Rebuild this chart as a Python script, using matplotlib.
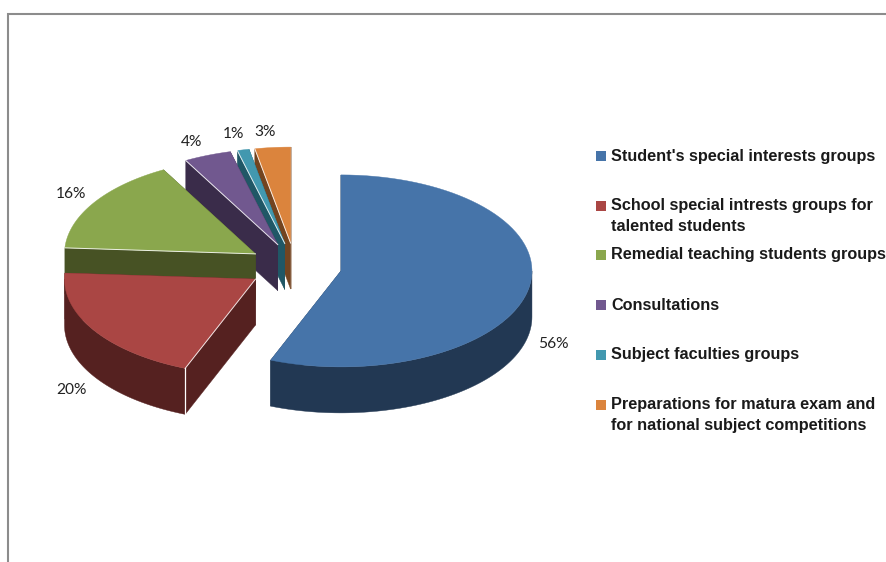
import numpy as np
import matplotlib
matplotlib.use('Agg')
import matplotlib.pyplot as plt

# chart data
categories = ["Student's special interests groups",
              "School special intrests groups for\ntalented students",
              "Remedial teaching students groups",
              "Consultations",
              "Subject faculties groups",
              "Preparations for matura exam and\nfor national subject competitions"]
values = [56, 20, 16, 4, 1, 3]
pct_labels = ['56%', '20%', '16%', '4%', '1%', '3%']

# colours
top_colors = ['#4674A9', '#AA4644', '#8AA74D', '#71588F', '#4298AF', '#DB843D']
side_colors = ['#223853', '#552120', '#475224', '#3A2C4A', '#205766', '#734420']

# pie geometry in pixels
cx, cy = 295, 266.5
rx, ry = 191, 96
depth = 46
explode = 0.245

# label layout
label_xy = [(553, 343), (71, 389), (71, 194), (192, 141), (233, 134), (265, 131)]
legend_y = [156, 216, 255, 305, 355, 415]

fig = plt.figure(figsize=(8.87, 5.62), dpi=100)
ax = fig.add_axes([0, 0, 1, 1])
ax.set_xlim(0, 887)
ax.set_ylim(562, 0)
ax.axis('off')

# outer frame, only top and left show
ax.plot([8, 8, 887], [562, 14, 14], color='#8c8c8c', lw=1.5, solid_joinstyle='miter')


def ring_point(theta, x0, y0):
    # theta is clockwise from 12 o'clock, in degrees
    t = np.radians(theta)
    return x0 + rx * np.sin(t), y0 - ry * np.cos(t)


def draw_slice(start, end, top, side):
    mid = np.radians((start + end) / 2)
    x0 = cx + explode * rx * np.sin(mid)
    y0 = cy - explode * ry * np.cos(mid)
    arc = np.linspace(start, end, 80)
    xs, ys = ring_point(arc, x0, y0)

    # the two cut faces
    for theta in (end, start):
        px, py = ring_point(theta, x0, y0)
        ax.fill([x0, px, px, x0], [y0, py, py + depth, y0 + depth],
                color=side, lw=0.3)

    # outer rim, front half only
    lo, hi = max(start, 90), min(end, 270)
    if hi > lo:
        rim = np.linspace(lo, hi, 80)
        rim_x, rim_y = ring_point(rim, x0, y0)
        ax.fill(np.r_[rim_x, rim_x[::-1]], np.r_[rim_y, rim_y[::-1] + depth],
                color=side, lw=0.3)

    ax.fill(np.r_[x0, xs], np.r_[y0, ys], color=top, lw=0.3)

    # thin light edge along the front cut
    if start > 0:
        px, py = ring_point(start, x0, y0)
        ax.plot([x0, px], [y0, py], color='white', lw=0.7, alpha=0.85)
        if 90 < start < 270:
            ax.plot([px, px], [py, py + depth], color='white', lw=0.9)


bounds = np.cumsum([0] + values) * 360.0 / sum(values)

# back slices first so the front ones cover them
for i in [5, 4, 3, 2, 1, 0]:
    draw_slice(bounds[i], bounds[i + 1], top_colors[i], side_colors[i])

for txt, (x, y) in zip(pct_labels, label_xy):
    ax.text(x, y + 0.5, txt, ha='center', va='center', fontsize=11.2, family='Lato', color='#222222')

# legend
for name, col, y in zip(categories, top_colors, legend_y):
    n_lines = name.count('\n') + 1
    key_y = y - (n_lines - 1) * 10
    ax.scatter([601], [key_y], marker='s', s=58, color=col, lw=0)
    ax.text(611, y, name, ha='left', va='center', fontsize=11.7, fontweight='bold',
            family='Liberation Sans', color='#1a1a1a', linespacing=1.45, clip_on=True)

fig.savefig('out.png', dpi=100)
